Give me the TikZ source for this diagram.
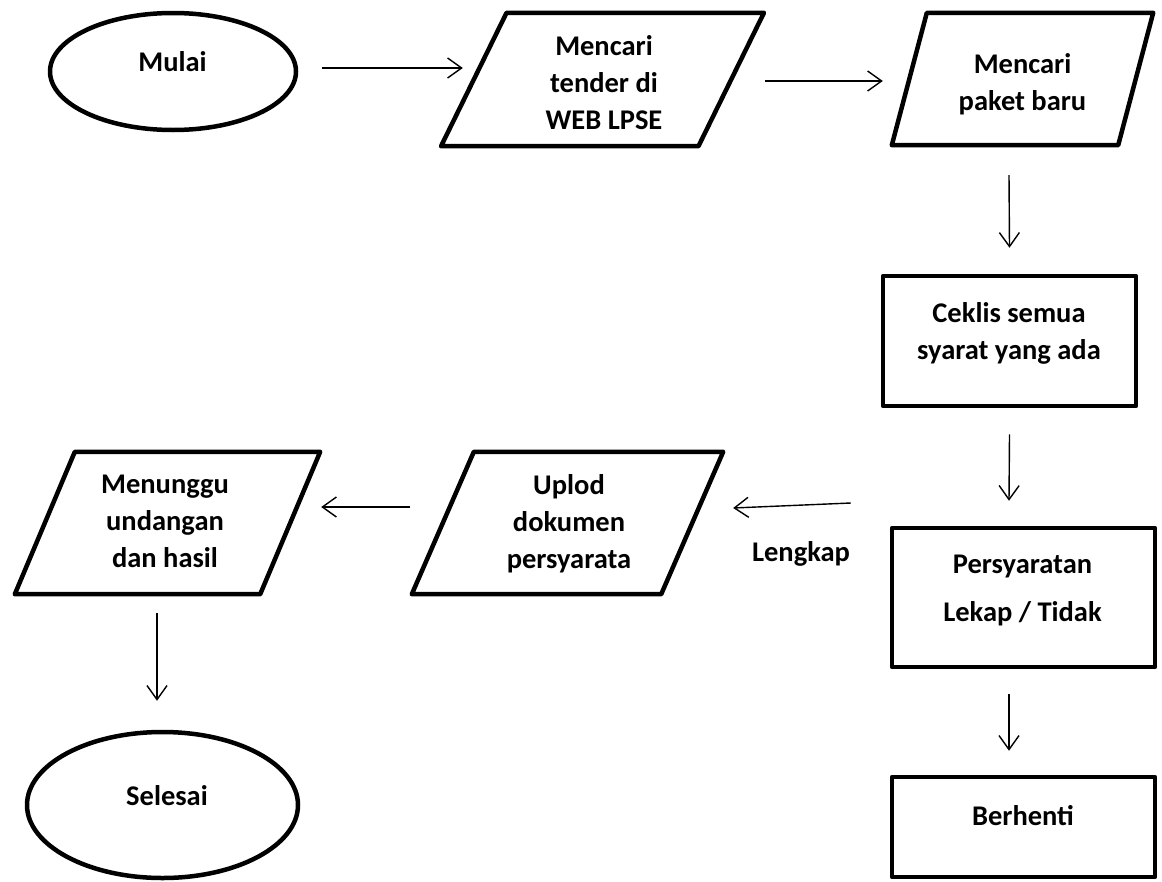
\documentclass[tikz,border=0pt]{standalone}
\usepackage{fontspec}
\setmainfont{Carlito}
\usepackage{tikz}
\usetikzlibrary{
    shapes.geometric,
    arrows.meta,
    positioning,
    calc
}
\tikzset{
    outline/.style={line width=4.5pt, line join=round},
    termbox/.style={ellipse, draw, outline, inner sep=0pt},
    procbox/.style={rectangle, draw, outline, inner sep=0pt},
    iobox/.style={rectangle, inner sep=0pt},
    txt/.style={align=center, inner sep=0pt, font=\fontsize{28.5}{37}\selectfont\bfseries},
    flow/.style={line width=1.4pt, -{Straight Barb[length=14pt, width=20pt, line width=1.4pt]}}
}
\newcommand\ioshape[2]{\draw[outline] ([xshift=-#2pt]#1.south west) -- ([xshift=-#2pt]#1.south east) -- ([xshift=#2pt]#1.north east) -- ([xshift=#2pt]#1.north west) -- cycle;}

\begin{document}
\begin{tikzpicture}[x=1pt, y=-1pt]
        \useasboundingbox (0,0) rectangle (1162,881);
        \node[termbox, minimum width=246pt, minimum height=117pt] (mulai) at (173,71.5) {};
        \node[iobox, minimum width=257pt, minimum height=133pt] (tender) at (602.5,79.5) {};
        \node[iobox, minimum width=226pt, minimum height=132pt] (paket) at (1022.5,79) {};
        \node[procbox, minimum width=253pt, minimum height=130pt] (ceklis) at (1009.5,341) {};
        \node[procbox, minimum width=263pt, minimum height=139pt] (syarat) at (1023.5,597.5) {};
        \node[procbox, minimum width=263pt, minimum height=100pt] (berhenti) at (1023.5,827) {};
        \node[iobox, minimum width=249pt, minimum height=142pt] (uplod) at (567.5,523) {};
        \node[iobox, minimum width=245pt, minimum height=142pt] (tunggu) at (167.5,523) {};
        \node[termbox, minimum width=271pt, minimum height=146pt] (selesai) at (162.5,805) {};
        \ioshape{tender}{32.75}
        \ioshape{paket}{17.5}
        \ioshape{uplod}{31}
        \ioshape{tunggu}{30}

        \node[txt] (mulaiTxt) at (172.5,62) {Mulai};
        \node[txt] (tenderTxt) at (604,83) {Mencari\\tender di\\WEB LPSE};
        \node[txt] (paketTxt) at (1022.5,84) {Mencari\\paket baru};
        \node[txt] (ceklisTxt) at (1009,333) {Ceklis semua\\syarat yang ada};
        \node[txt] (syaratTxt) at (1022.5,590) {Persyaratan\\[11pt]Lekap / Tidak};
        \node[txt] (berhentiTxt) at (1023,816) {Berhenti};
        \node[txt] (uplodTxt) at (569,524) {Uplod\\dokumen\\persyarata};
        \node[txt] (tungguTxt) at (165,521.5) {Menunggu\\undangan\\dan hasil};
        \node[txt] (selesaiTxt) at (167,796) {Selesai};
        \node[txt] (lengkap) at (801,554) {Lengkap};

        \draw[flow] ([xshift=24pt,yshift=3.5pt]mulai.east) -- ([xshift=-11pt,yshift=11.5pt]tender.west);
        \draw[flow] ([xshift=34pt,yshift=-1.5pt]tender.east) -- ([xshift=-26.5pt,yshift=-2pt]paket.west);
        \draw[flow] ([xshift=-13.5pt,yshift=-30pt]paket.south) -- ([yshift=26pt]ceklis.north);
        \draw[flow] ([yshift=-26pt]ceklis.south) -- ([xshift=-14.5pt,yshift=25pt]syarat.north);
        \draw[flow] ([xshift=-14.5pt,yshift=-25pt]syarat.south) -- ([xshift=-14.5pt,yshift=24pt]berhenti.north);
        \draw[flow] ([xshift=-39pt,yshift=94.5pt]syarat.west) -- ([xshift=41pt,yshift=15pt]uplod.east);
        \draw[flow] ([xshift=-33pt,yshift=16pt]uplod.west) -- ([xshift=31pt,yshift=16pt]tunggu.east);
        \draw[flow] ([xshift=-10.5pt,yshift=-19pt]tunggu.south) -- ([xshift=-5.5pt,yshift=29pt]selesai.north);
    \end{tikzpicture}
\end{document}
